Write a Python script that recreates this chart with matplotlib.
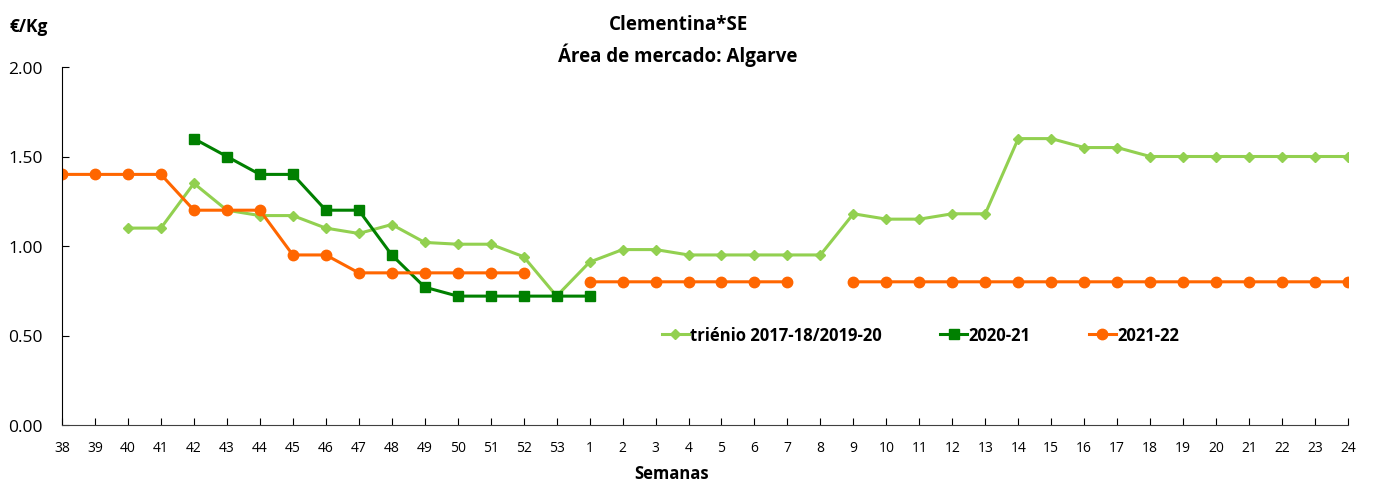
import numpy as np
import matplotlib
matplotlib.use("Agg")
import matplotlib.pyplot as plt

plt.rcParams['font.family'] = ['Open Sans', 'DejaVu Sans']

# weeks (campaign runs from week 38 to week 24 of the next year)
semanas = [str(w) for w in range(38, 54)] + [str(w) for w in range(1, 25)]

nan = np.nan
trienio = [nan, nan, 1.10, 1.10, 1.35, 1.20, 1.17, 1.17, 1.10, 1.07, 1.12, 1.02,
           1.01, 1.01, 0.94, 0.72,
           0.91, 0.98, 0.98, 0.95, 0.95, 0.95, 0.95, 0.95, 1.18, 1.15, 1.15, 1.18,
           1.18, 1.60, 1.60, 1.55, 1.55, 1.50, 1.50, 1.50, 1.50, 1.50, 1.50, 1.50]
c2020_21 = [nan, nan, nan, nan, 1.60, 1.50, 1.40, 1.40, 1.20, 1.20, 0.95, 0.77,
            0.72, 0.72, 0.72, 0.72,
            0.72] + [nan] * 23
c2021_22 = [1.40, 1.40, 1.40, 1.40, 1.20, 1.20, 1.20, 0.95, 0.95, 0.85, 0.85, 0.85,
            0.85, 0.85, 0.85, nan,
            0.80, 0.80, 0.80, 0.80, 0.80, 0.80, 0.80, nan, 0.80, 0.80, 0.80, 0.80,
            0.80, 0.80, 0.80, 0.80, 0.80, 0.80, 0.80, 0.80, 0.80, 0.80, 0.80, 0.80]

x = np.arange(len(semanas))

fig = plt.figure(figsize=(13.73, 4.81), dpi=100)
ax = fig.add_axes([62/1373, 1 - 426/481, (1348 - 62)/1373, (426 - 68)/481])

ax.plot(x, trienio, color='#92D050', lw=2.2, marker='D', ms=5.5,
        label='triénio 2017-18/2019-20')
ax.plot(x, c2020_21, color='#008000', lw=2.2, marker='s', ms=7, label='2020-21')
ax.plot(x, c2021_22, color='#FF6600', lw=2.2, marker='o', ms=7.5, label='2021-22')

ax.set_xlim(0, len(semanas) - 1)
ax.set_ylim(0, 2)
ax.set_yticks([0, 0.5, 1.0, 1.5, 2.0])
ax.set_yticklabels(['0.00', '0.50', '1.00', '1.50', '2.00'], fontsize=12.5)
ax.set_xticks(x)
ax.set_xticklabels(semanas, fontsize=10)
ax.tick_params(axis='x', direction='in', length=5, pad=11)
ax.tick_params(axis='y', direction='in', length=5, pad=14)
for s in ['top', 'right']:
    ax.spines[s].set_visible(False)
ax.spines['left'].set_color('black')
ax.spines['bottom'].set_color('#404040')

fig.text(678/1373, 1 - 25/481, 'Clementina*SE', ha='center', va='center',
         fontsize=13.5, fontweight='bold')
fig.text(678/1373, 1 - 55/481, 'Área de mercado: Algarve', ha='center',
         va='center', fontsize=13.5, fontweight='bold')
fig.text(10/1373, 1 - 27/481, '€/Kg', ha='left', va='center', fontsize=12.5,
         fontweight='bold')
fig.text(672/1373, 1 - 474/481, 'Semanas', ha='center', va='center',
         fontsize=12, fontweight='bold')

leg = ax.legend(loc='center left', bbox_to_anchor=(585/1286, 1 - (336 - 68)/358),
                ncol=3, frameon=False, handlelength=1.6,
                handletextpad=0.1, columnspacing=3.5,
                prop={'weight': 'bold', 'size': 12})

fig.savefig('out.png', dpi=100)
